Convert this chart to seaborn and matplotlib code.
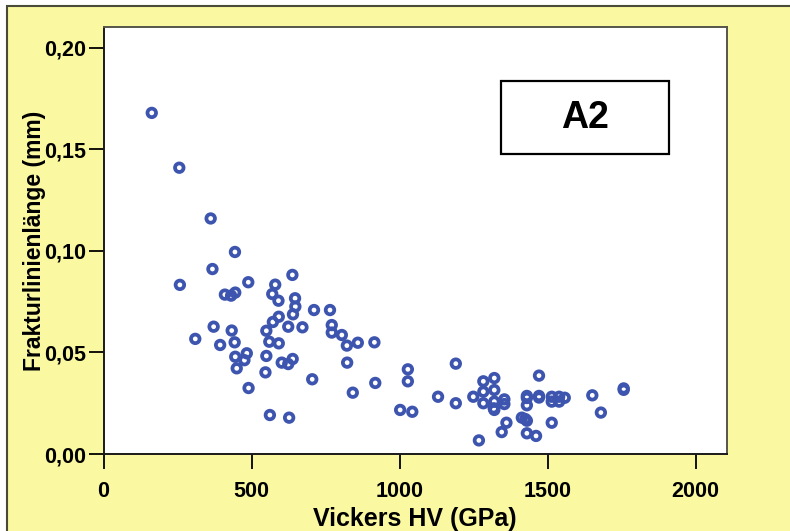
import numpy as np
import pandas as pd
import matplotlib
matplotlib.use("Agg")
import matplotlib.pyplot as plt
from matplotlib.patches import Rectangle
import seaborn as sns

# Vickers hardness (HV) and fracture line length (mm) for group A2
hardness = [
    163, 256, 362, 444, 258, 368, 410, 431, 445, 489,
    310, 372, 394, 433, 443, 445, 450, 476, 484, 490,
    580, 570, 591, 638, 647, 648, 640, 592, 572, 550,
    560, 592, 624, 672, 550, 547, 602, 624, 639, 562,
    627, 711, 765, 771, 771, 805, 822, 859, 915, 705,
    823, 918, 842, 1002, 1043, 1028, 1028, 1130, 1190, 1190,
    1249, 1283, 1283, 1283, 1320, 1320, 1320, 1320, 1318, 1354,
    1354, 1361, 1345, 1268, 1413, 1430, 1430, 1430, 1430, 1430,
    1461, 1471, 1471, 1471, 1514, 1514, 1539, 1539, 1558, 1514,
    1651, 1680, 1757, 1757, 1425,
]
fracture_len = [
    0.168, 0.141, 0.116, 0.0995, 0.0833, 0.0911, 0.0785, 0.0780, 0.0795, 0.0846,
    0.0567, 0.0627, 0.0537, 0.0608, 0.0550, 0.0479, 0.0422, 0.0462, 0.0496, 0.0325,
    0.0834, 0.0788, 0.0755, 0.0882, 0.0767, 0.0726, 0.0688, 0.0676, 0.0650, 0.0607,
    0.0553, 0.0545, 0.0627, 0.0624, 0.0483, 0.0402, 0.0450, 0.0443, 0.0468, 0.0192,
    0.0179, 0.0709, 0.0709, 0.0635, 0.0598, 0.0586, 0.0534, 0.0548, 0.0550, 0.0368,
    0.0450, 0.0350, 0.0302, 0.0217, 0.0208, 0.0417, 0.0358, 0.0282, 0.0445, 0.0250,
    0.0282, 0.0358, 0.0307, 0.0250, 0.0374, 0.0315, 0.0258, 0.0217, 0.0225, 0.0269,
    0.0246, 0.0154, 0.0108, 0.0067, 0.0179, 0.0164, 0.0286, 0.0276, 0.0240, 0.0102,
    0.0089, 0.0386, 0.0286, 0.0278, 0.0282, 0.0258, 0.0282, 0.0258, 0.0277, 0.0154,
    0.0289, 0.0204, 0.0323, 0.0316, 0.0172,
]
x_ticks = [0, 500, 1000, 1500, 2000]
x_tick_labels = ["0", "500", "1000", "1500", "2000"]
y_ticks = [0.00, 0.05, 0.10, 0.15, 0.20]
y_tick_labels = ["0,00", "0,05", "0,10", "0,15", "0,20"]
panel_label = "A2"

df = pd.DataFrame({"hv": hardness, "frac": fracture_len})

sns.set_theme(style="white")
plt.rcParams["font.family"] = ["Liberation Sans", "DejaVu Sans"]
plt.rcParams["font.weight"] = "bold"

W, H = 790, 531
fig = plt.figure(figsize=(W / 100, H / 100), dpi=100)
fig.patch.set_facecolor("white")

# pale yellow panel behind the plot
panel = Rectangle((7 / W, -0.05), 1.1, 1 - 6 / H + 0.05, transform=fig.transFigure,
                  facecolor="#FAF8A0", edgecolor="#4a4a38", linewidth=1.5, zorder=-10)
fig.patches.append(panel)

ax = fig.add_axes([103.5 / W, 1 - 454 / H, (727 - 103.5) / W, (454 - 27) / H])
ax.set_zorder(1)
ax.set_facecolor("white")

blue = "#3D55AE"
sns.scatterplot(data=df, x="hv", y="frac", ax=ax, s=38, marker="o",
                facecolor="none", edgecolor=blue, linewidth=2.7, legend=False,
                zorder=3)

ax.set_xlim(0, 2106)
ax.set_ylim(0, 0.2103)
ax.set_xticks(x_ticks)
ax.set_xticklabels(x_tick_labels)
ax.set_yticks(y_ticks)
ax.set_yticklabels(y_tick_labels)
ax.tick_params(axis="both", which="major", direction="out", length=10.8, width=1.3,
               color="black", labelsize=15.5, labelcolor="black",
               bottom=True, left=True, top=False, right=False)
ax.tick_params(axis="x", pad=8.5)
ax.tick_params(axis="y", pad=2)
for lab in ax.get_xticklabels() + ax.get_yticklabels():
    lab.set_fontweight("bold")

for side in ["left", "bottom"]:
    ax.spines[side].set_color("#1a1a1a")
    ax.spines[side].set_linewidth(1.4)
for side in ["top", "right"]:
    ax.spines[side].set_color("#55554a")
    ax.spines[side].set_linewidth(1.4)

ax.set_xlabel("Vickers HV (GPa)", fontsize=18, fontweight="bold", color="black")
ax.set_ylabel("Frakturlinienlänge (mm)", fontsize=16.5, fontweight="bold", color="black")
ax.xaxis.set_label_coords(0.5, -0.125)
ax.yaxis.set_label_coords(-0.093, 0.5)

# labelled box in the upper right
box = Rectangle((0.637, 0.7026), 0.270, 0.171, transform=ax.transAxes,
                facecolor="white", edgecolor="black", linewidth=1.6, zorder=4)
ax.add_patch(box)
ax.text(0.772, 0.788, panel_label, transform=ax.transAxes, ha="center", va="center",
        fontsize=27, fontweight="bold", color="black", zorder=5)

fig.savefig("out.png", dpi=100, facecolor=fig.get_facecolor())
